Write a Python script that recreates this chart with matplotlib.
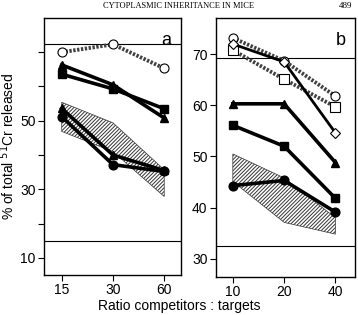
import numpy as np
import matplotlib.pyplot as plt

# panel a: ratio 15, 30, 60
ratios_a = ["15", "30", "60"]
a_open_circle = [70.0, 72.3, 65.3]
a_triangle = [66.3, 60.5, 50.8]
a_square = [63.6, 59.3, 53.5]
a_low_triangle = [53.6, 40.0, 35.5]
a_low_circle = [51.2, 37.2, 35.2]
a_band_top = [55.4, 49.4, 35.7]
a_band_bottom = [46.9, 41.0, 27.9]
a_hlines = [72.3, 14.8]

# panel b: ratio 10, 20, 40
ratios_b = ["10", "20", "40"]
b_open_circle = [73.2, 68.7, 61.8]
b_open_diamond = [72.0, 68.5, 54.6]
b_open_square = [70.8, 65.1, 59.7]
b_triangle = [60.3, 60.3, 48.8]
b_square = [56.1, 52.0, 41.8]
b_circle = [44.3, 45.3, 39.1]
b_band_top = [50.5, 45.8, 38.0]
b_band_bottom = [45.1, 37.1, 34.8]
b_hlines = [69.2, 32.5]

plt.rcParams['font.family'] = ['Liberation Sans', 'DejaVu Sans']
plt.rcParams['hatch.linewidth'] = 0.7

fig = plt.figure(figsize=(3.58, 3.15), dpi=100)
ax1 = fig.add_axes([0.123, 0.127, 0.383, 0.816])
ax2 = fig.add_axes([0.603, 0.122, 0.390, 0.821])

x = np.arange(3)
dotted = dict(color='0.25', lw=2.8, linestyle=(0, (0.6, 0.4)), ms=6.5,
              mfc='white', mec='black', mew=0.8)
solid = dict(color='black', lw=2.6, ms=6.3, mfc='black', mec='black')


def band(ax, top, bottom):
    xs = np.concatenate([x, x[::-1]])
    ys = np.concatenate([top, bottom[::-1]])
    ax.fill(xs, ys, facecolor='white', edgecolor='0.2', hatch='/////////',
            lw=0.5, zorder=1)


# panel a
band(ax1, a_band_top, a_band_bottom)
for v in a_hlines:
    ax1.axhline(v, color='black', lw=0.8, zorder=1)
ax1.plot(x, a_open_circle, marker='o', **dotted, zorder=3)
ax1.plot(x, a_triangle, marker='^', **solid, zorder=3)
ax1.plot(x, a_square, marker='s', **solid, zorder=3)
ax1.plot(x, a_low_triangle, marker='^', **solid, zorder=3)
ax1.plot(x, a_low_circle, marker='o', **solid, zorder=3)
ax1.set_xlim(-0.345, 2.33)
ax1.set_ylim(5, 80)
ax1.set_xticks(x, ratios_a)
ax1.set_yticks(np.arange(10, 80, 10))
ax1.set_yticklabels(['10', '', '30', '', '50', '', ''])
ax1.set_ylabel('% of total $^{51}$Cr released', fontsize=10, labelpad=2)
ax1.text(0.93, 0.945, 'a', transform=ax1.transAxes, ha='right', va='top',
         fontsize=13)

# panel b
band(ax2, b_band_top, b_band_bottom)
for v in b_hlines:
    ax2.axhline(v, color='black', lw=0.8, zorder=1)
ax2.plot(x, b_open_circle, marker='o', **dotted, zorder=3)
ax2.plot(x, b_open_square, marker='s', **dotted, zorder=3)
ax2.plot(x, b_open_diamond, marker='D', color='black', lw=2.0, ms=5.5,
         mfc='white', mec='black', mew=0.8, zorder=4)
ax2.plot(x, b_triangle, marker='^', **solid, zorder=3)
ax2.plot(x, b_square, marker='s', **solid, zorder=3)
ax2.plot(x, b_circle, marker='o', **solid, zorder=3)
ax2.set_xlim(-0.33, 2.39)
ax2.set_ylim(26.5, 77.1)
ax2.set_xticks(x, ratios_b)
ax2.set_yticks(np.arange(30, 80, 10))
ax2.text(0.93, 0.945, 'b', transform=ax2.transAxes, ha='right', va='top',
         fontsize=13)

for ax in (ax1, ax2):
    ax.tick_params(direction='out', length=4, width=0.8, labelsize=10, pad=2)
    for s in ax.spines.values():
        s.set_linewidth(1.0)

fig.text(0.5, 0.028, 'Ratio competitors : targets', ha='center', va='center',
         fontsize=10)
fig.text(0.5, 0.982, 'CYTOPLASMIC INHERITANCE IN MICE', ha='center',
         va='center', fontsize=6, family='Liberation Serif')
fig.text(0.965, 0.982, '489', ha='center', va='center', fontsize=6.5,
         family='Liberation Serif')

fig.savefig('out.png', dpi=100)
